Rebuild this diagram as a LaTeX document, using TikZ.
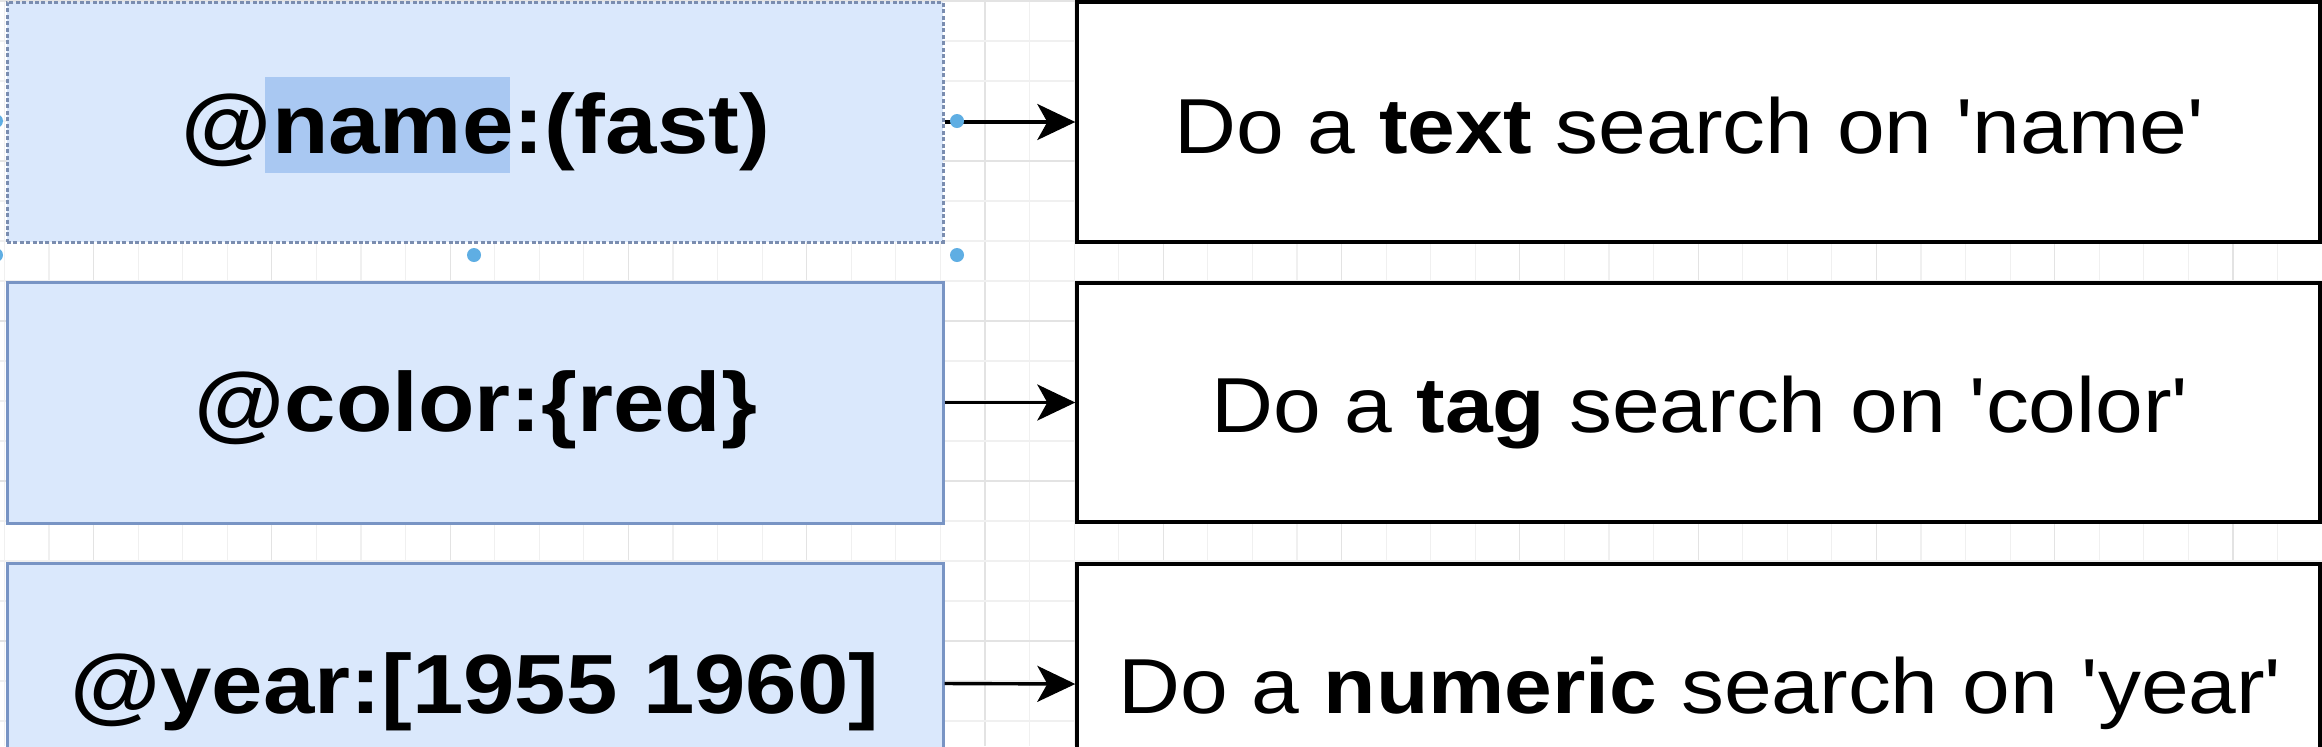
\documentclass[tikz,border=0pt]{standalone}
\usepackage{fontspec}
\setmainfont{Liberation Sans}
\usepackage{graphicx}
\usetikzlibrary{arrows.meta}
\definecolor{qfill}{HTML}{DAE8FC}
\definecolor{qdraw}{HTML}{7894C4}
\definecolor{qsel}{HTML}{7A8DB0}
\definecolor{hl}{HTML}{A9C8F2}
\definecolor{handle}{HTML}{5FAEE3}
\definecolor{gridmin}{HTML}{F0F0F0}
\definecolor{gridmaj}{HTML}{E3E3E3}
\newcommand\wide[1]{\scalebox{1.1}[1]{#1}}
\tikzset{
  qbox/.style={draw=qdraw, fill=qfill, line width=1.5pt, minimum width=468pt, minimum height=120pt, inner sep=0pt},
  selbox/.style={qbox, draw=qsel, dash pattern=on 2pt off 1.2pt},
  rbox/.style={draw=black, fill=white, line width=1.7pt, minimum width=621.5pt, minimum height=120pt, inner sep=0pt},
  qtext/.style={font=\bfseries\fontsize{42}{48}\selectfont, inner sep=0pt, anchor=base},
  rtext/.style={font=\fontsize{39}{46}\selectfont, inner sep=0pt, anchor=base},
  arr/.style={line width=1.7pt, -{Stealth[length=19pt, width=18pt, inset=5pt]}},
  handledot/.style={fill=handle, draw=none},
  gmin/.style={draw=gridmin, line width=0.6pt},
  gmaj/.style={draw=gridmaj, line width=0.6pt}
}
\begin{document}
\begin{tikzpicture}[x=0.5pt,y=-0.5pt]
\useasboundingbox (0,0) rectangle (2322,746);
\clip (0,0) rectangle (2322,746);
\fill[white] (0,0) rectangle (2322,746);
% grid
\foreach \k in {0,...,52} {
  \pgfmathsetmacro\xx{4.43+44.57*\k}
  \pgfmathtruncatemacro\mm{mod(\k,4)}
  \ifnum\mm=2 \draw[gmaj] (\xx,0) -- (\xx,746); \else \draw[gmin] (\xx,0) -- (\xx,746); \fi
}
\foreach \k in {0,...,19} {
  \pgfmathsetmacro\yy{1+40*\k}
  \pgfmathtruncatemacro\mm{mod(\k,4)}
  \ifnum\mm=0 \draw[gmaj] (0,\yy) -- (2322,\yy); \else \draw[gmin] (0,\yy) -- (2322,\yy); \fi
}
% left boxes
\node[selbox] (b1) at (475,122) {};
\node[qbox, minimum height=120.5pt] (b2) at (475,402.5) {};
\node[qbox, minimum height=120.5pt] (b3) at (475,683.5) {};
% right boxes
\node[rbox] (r1) at (1698.5,122) {};
\node[rbox, minimum height=119.5pt] (r2) at (1698.5,402.5) {};
\node[rbox] (r3) at (1698.5,684) {};
% text selection highlight
\fill[hl] (265,77) rectangle (510,173);
% texts
\node[qtext] (t1) at (476,153) {\wide{@name:(fast)}};
\node[qtext] (t2) at (476,431) {\wide{@color:\{red\}}};
\node[qtext] (t3) at (475,713) {\wide{@year:[1955 1960]}};
\node[rtext] (s1) at (1689,153) {\wide{Do a \textbf{text} search on \textquotesingle name\textquotesingle}};
\node[rtext] (s2) at (1700,432) {\wide{Do a \textbf{tag} search on \textquotesingle color\textquotesingle}};
\node[rtext] (s3) at (1700,713) {\wide{Do a \textbf{numeric} search on \textquotesingle year\textquotesingle}};
% connectors
\draw[arr] (b1.east) -- (r1.west);
\draw[arr] (b2.east) -- (r2.west);
\draw[arr] (b3.east) -- (r3.west);
% selection handles
\fill[handledot] (957,121) circle (7);
\fill[handledot] (474,255) circle (7);
\fill[handledot] (957,255) circle (7);
\fill[handledot] (-4,121) circle (7);
\fill[handledot] (-4,255) circle (7);
\end{tikzpicture}
\end{document}
